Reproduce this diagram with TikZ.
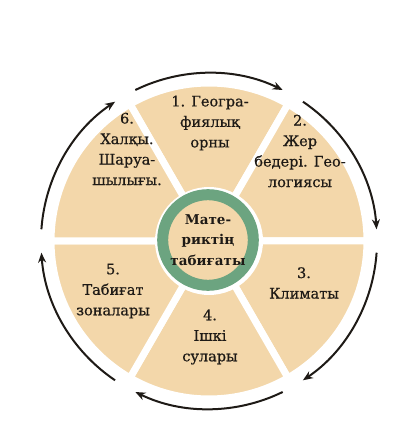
\documentclass[tikz,border=0pt]{standalone}
\usepackage{fontspec}
\setmainfont{DejaVu Serif}
\newfontfamily\labelfont{DejaVu Serif}[FakeBold=0.6]
\usepackage{tikz}
\usetikzlibrary{positioning, arrows.meta, calc}
\definecolor{sectortan}{RGB}{243,215,170}
\definecolor{ringgreen}{RGB}{108,164,128}
\definecolor{textdark}{RGB}{30,26,22}

\begin{document}
\begin{tikzpicture}[x=1pt, y=1pt, font=\labelfont\fontsize{14.5}{20.5}\selectfont,
sector/.style={fill=sectortan, draw=white, line width=7pt, line join=miter},
label/.style={align=center, text=textdark, inner sep=0pt},
hub/.style={circle, draw=ringgreen, line width=11pt, fill=sectortan,
minimum size=90pt, inner sep=0pt, align=center, text=textdark,
font=\rmfamily\bfseries\fontsize{13.5}{20.5}\selectfont},
arrow/.style={-{Stealth[length=10pt, width=8pt]}, line width=2pt, draw=textdark}
]
\useasboundingbox (-209,-181) rectangle (209,241);

% Sectors
\path[sector] (0,0) -- (60:158) arc[start angle=60, end angle=120, radius=158] -- cycle;
\path[sector] (0,0) -- (0:158) arc[start angle=0, end angle=60, radius=158] -- cycle;
\path[sector] (0,0) -- (-60:158) arc[start angle=-60, end angle=0, radius=158] -- cycle;
\path[sector] (0,0) -- (-120:158) arc[start angle=-120, end angle=-60, radius=158] -- cycle;
\path[sector] (0,0) -- (180:158) arc[start angle=180, end angle=240, radius=158] -- cycle;
\path[sector] (0,0) -- (120:158) arc[start angle=120, end angle=180, radius=158] -- cycle;

% Hub
\fill[white] (0,0) circle[radius=54];
\node[hub] (hub) at (-1,1) {Мате-\\риктің\\табиғаты};

% Labels
\node[label] (geo) at (1,118) {1. Геогра-\\фиялық\\орны};
\node[label] (relief) at (91,90) {2.\\Жер\\бедері. Гео-\\логиясы};
\node[label] (climate) at (95,-42) {3.\\Климаты};
\node[label] (water) at (1,-96) {4.\\Ішкі\\сулары};
\node[label] (zones) at (-96,-50) {5.\\Табиғат\\зоналары};
\node[label] (people) at (-82,92) {6.\\Халқы.\\Шаруа-\\шылығы.};

% Arrows
\draw[arrow] (116:168) arc[start angle=116, end angle=64, radius=168];
\draw[arrow] (56:168) arc[start angle=56, end angle=4, radius=168];
\draw[arrow] (-4:168) arc[start angle=-4, end angle=-56, radius=168];
\draw[arrow] (-64:168) arc[start angle=-64, end angle=-116, radius=168];
\draw[arrow] (-124:168) arc[start angle=-124, end angle=-176, radius=168];
\draw[arrow] (176:168) arc[start angle=176, end angle=124, radius=168];

\end{tikzpicture}
\end{document}
